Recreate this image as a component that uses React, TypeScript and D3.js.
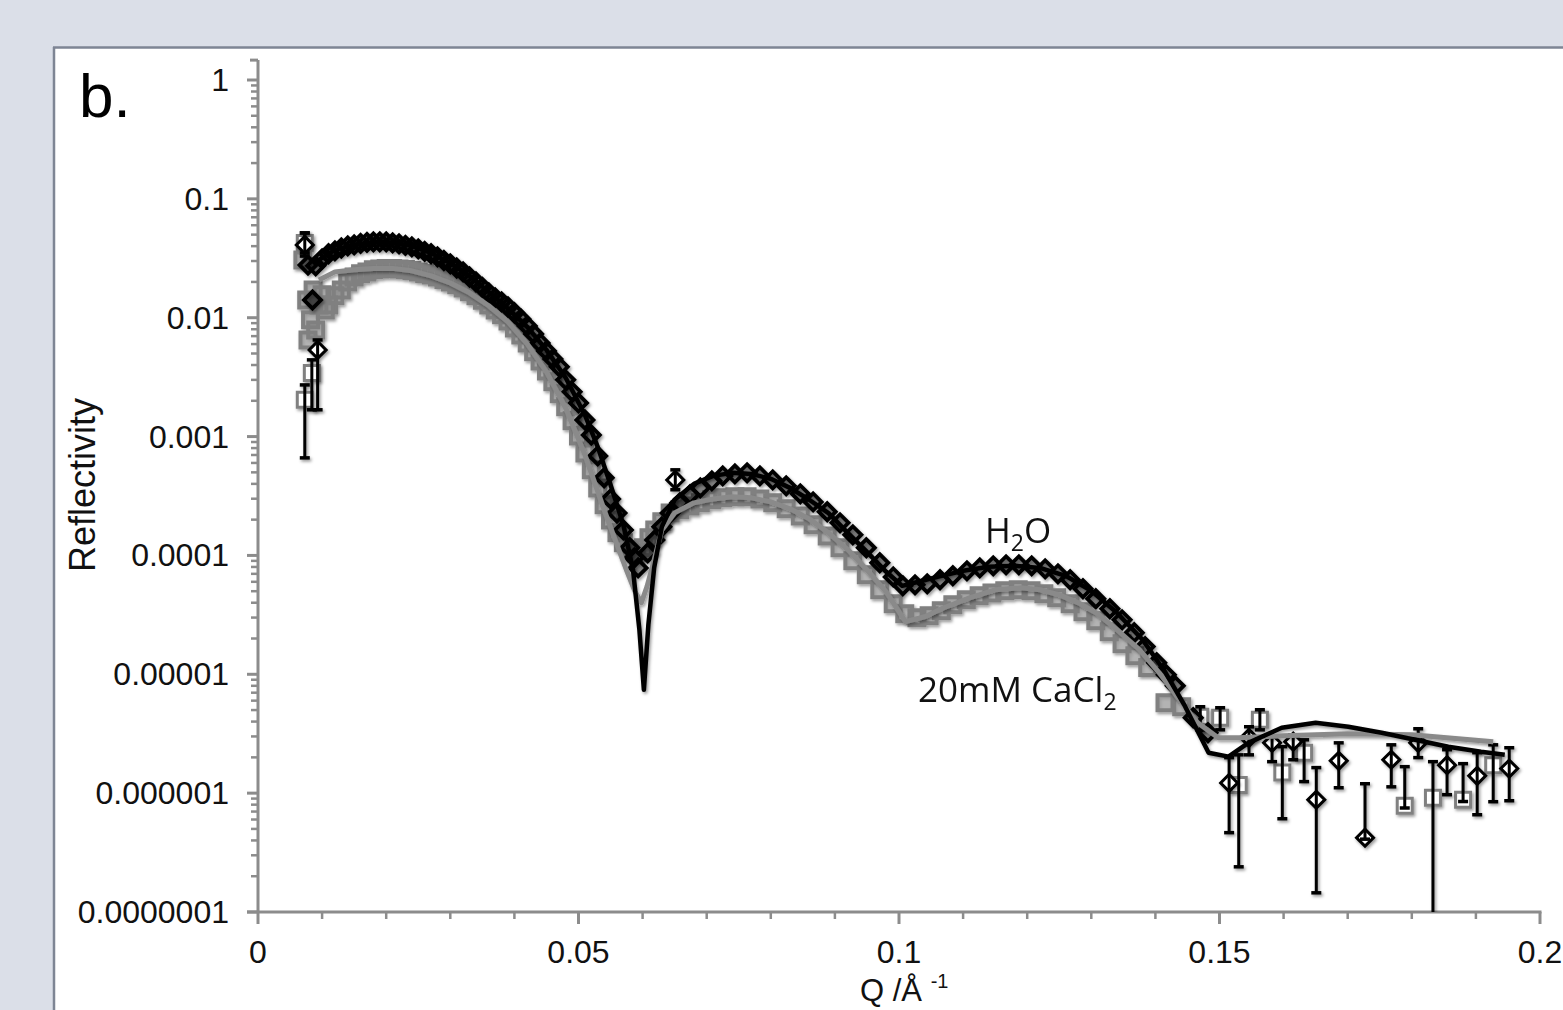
import React from "react";
import * as d3 from "d3";

// ---------- data ----------
const h2oQ = [0.0078, 0.0085, 0.009, 0.010, 0.011, 0.012, 0.013, 0.014, 0.015, 0.016, 0.017, 0.018, 0.019, 0.020, 0.021, 0.022, 0.023, 0.024, 0.025, 0.026, 0.027, 0.028, 0.029, 0.030, 0.031, 0.032, 0.033, 0.034, 0.035, 0.036, 0.037, 0.038, 0.039, 0.040, 0.041, 0.042, 0.043, 0.044, 0.045, 0.046, 0.047, 0.048, 0.049, 0.050, 0.051, 0.052, 0.053, 0.054, 0.055, 0.056, 0.057, 0.058, 0.0587, 0.0593,
  0.0608, 0.0619, 0.0630, 0.0643, 0.0658, 0.0674, 0.0690, 0.0708, 0.0725, 0.0744, 0.0763, 0.0783, 0.0803, 0.0824, 0.0846, 0.0866, 0.0888, 0.0908, 0.0928, 0.0949, 0.0970, 0.0991, 0.1006, 0.1025, 0.1044, 0.1064, 0.1084, 0.1106, 0.1126, 0.1147, 0.1167, 0.1187, 0.1207, 0.1228, 0.1248, 0.1267, 0.1287, 0.1307, 0.1329, 0.1348, 0.1367, 0.1384, 0.1402, 0.1417, 0.1431, 0.1459, 0.1482];
const h2oR = [0.0277, 0.0141, 0.0273, 0.0313, 0.0345, 0.0365, 0.0386, 0.0402, 0.0410, 0.0422, 0.0430, 0.0434, 0.0434, 0.0434, 0.0426, 0.0418, 0.0406, 0.0394, 0.0379, 0.0361, 0.0345, 0.0325, 0.0303, 0.0284, 0.0262, 0.0243, 0.0220, 0.0200, 0.0180, 0.0162, 0.0147, 0.0136, 0.0123, 0.0110, 0.00977, 0.00853, 0.00731, 0.00614, 0.00526, 0.00450, 0.00386, 0.00300, 0.00238, 0.00192, 0.00138, 0.00103, 0.000688, 0.000450, 0.000299, 0.000227, 0.000164, 0.000116, 9.55e-5, 7.85e-5,
  1.05e-4, 1.35e-4, 1.74e-4, 2.27e-4, 2.77e-4, 3.24e-4, 3.70e-4, 4.24e-4, 4.67e-4, 4.85e-4, 4.95e-4, 4.67e-4, 4.32e-4, 3.85e-4, 3.30e-4, 2.82e-4, 2.33e-4, 1.88e-4, 1.49e-4, 1.16e-4, 8.67e-5, 6.60e-5, 5.55e-5, 5.66e-5, 5.77e-5, 6.24e-5, 6.74e-5, 7.42e-5, 7.85e-5, 8.18e-5, 8.34e-5, 8.34e-5, 8.18e-5, 7.71e-5, 7.00e-5, 6.24e-5, 5.24e-5, 4.32e-5, 3.56e-5, 2.87e-5, 2.24e-5, 1.71e-5, 1.25e-5, 9.90e-6, 8.00e-6, 4.31e-6, 3.22e-6];

const cacl2Q = [0.0070, 0.0076, 0.0078, 0.0082, 0.0086, 0.0090, 0.0095, 0.0100, 0.0105, 0.011, 0.012, 0.013, 0.014, 0.015, 0.016, 0.017, 0.018, 0.019, 0.020, 0.021, 0.022, 0.023, 0.024, 0.025, 0.026, 0.027, 0.028, 0.029, 0.030, 0.031, 0.032, 0.033, 0.034, 0.035, 0.036, 0.037, 0.038, 0.039, 0.040, 0.041, 0.042, 0.043, 0.044, 0.045, 0.046, 0.047, 0.048, 0.049, 0.050, 0.051, 0.052, 0.053, 0.054, 0.055, 0.056, 0.057, 0.058, 0.059,
  0.0601, 0.0610, 0.0619, 0.0630, 0.0643, 0.0658, 0.0674, 0.0690, 0.0708, 0.0725, 0.0744, 0.0763, 0.0783, 0.0803, 0.0824, 0.0846, 0.0866, 0.0888, 0.0908, 0.0928, 0.0949, 0.0970, 0.0991, 0.1009, 0.1028, 0.1047, 0.1066, 0.1084, 0.1105, 0.1125, 0.1145, 0.1165, 0.1186, 0.1206, 0.1226, 0.1246, 0.1267, 0.1287, 0.1307, 0.1328, 0.1348, 0.1368, 0.1388, 0.1415, 0.1441];
const cacl2R = [0.0306, 0.0141, 0.0065, 0.0096, 0.0171, 0.0079, 0.0128, 0.0156, 0.0116, 0.0128, 0.0153, 0.0171, 0.0200, 0.0220, 0.0234, 0.0243, 0.0253, 0.0257, 0.0260, 0.0260, 0.0257, 0.0255, 0.0250, 0.0243, 0.0236, 0.0229, 0.0220, 0.0210, 0.0200, 0.0189, 0.0178, 0.0165, 0.0153, 0.0140, 0.0128, 0.0116, 0.0106, 0.00940, 0.00821, 0.00717, 0.00614, 0.00516, 0.00433, 0.00357, 0.00289, 0.00229, 0.00178, 0.00136, 0.00101, 0.000729, 0.000525, 0.000370, 0.000267, 0.000199, 0.000155, 0.000128, 0.000112, 0.000105,
  1.16e-4, 1.41e-4, 1.64e-4, 1.92e-4, 2.27e-4, 2.42e-4, 2.61e-4, 2.77e-4, 2.94e-4, 3.05e-4, 3.11e-4, 3.11e-4, 2.99e-4, 2.77e-4, 2.47e-4, 2.15e-4, 1.81e-4, 1.46e-4, 1.16e-4, 9.01e-5, 6.87e-5, 5.14e-5, 3.92e-5, 3.23e-5, 2.99e-5, 3.11e-5, 3.42e-5, 3.84e-5, 4.23e-5, 4.57e-5, 4.84e-5, 5.04e-5, 5.14e-5, 5.04e-5, 4.75e-5, 4.40e-5, 3.92e-5, 3.36e-5, 2.82e-5, 2.28e-5, 1.81e-5, 1.43e-5, 1.14e-5, 5.76e-6, 5.33e-6];

// points drawn with visible error bars
const h2oErrQ = [0.0073, 0.0093, 0.0651, 0.1515, 0.1546, 0.1582, 0.1615, 0.1651, 0.1686, 0.1727, 0.1768, 0.1810, 0.1855, 0.1902, 0.1952];
const h2oErrR = [0.0410, 0.00536, 4.32e-4, 1.22e-6, 2.92e-6, 2.65e-6, 2.71e-6, 8.80e-7, 1.87e-6, 4.22e-7, 1.91e-6, 2.65e-6, 1.72e-6, 1.40e-6, 1.61e-6];
const h2oErrLo = [0.0330, 0.00168, 3.57e-4, 4.65e-7, 2.10e-6, 1.84e-6, 1.91e-6, 1.45e-7, 1.11e-6, 4.1e-7, 1.13e-6, 1.99e-6, 9.70e-7, 6.58e-7, 8.63e-7];
const h2oErrHi = [0.0517, 0.0065, 5.25e-4, 1.99e-6, 3.62e-6, 2.98e-6, 3.10e-6, 1.64e-6, 2.65e-6, 1.20e-6, 2.55e-6, 3.48e-6, 2.32e-6, 2.19e-6, 2.41e-6];

const cacl2ErrQ = [0.0073, 0.0073, 0.0084, 0.1470, 0.1501, 0.1530, 0.1563, 0.1598, 0.1632, 0.1789, 0.1833, 0.1880, 0.1927];
const cacl2ErrR = [0.0426, 0.00204, 0.00343, 4.39e-6, 4.31e-6, 1.17e-6, 4.14e-6, 1.49e-6, 2.19e-6, 7.83e-7, 9.15e-7, 8.80e-7, 1.72e-6];
const cacl2ErrLo = [0.0351, 0.000662, 0.00168, 3.41e-6, 3.41e-6, 2.40e-7, 3.41e-6, 6.09e-7, 1.25e-6, 7.5e-7, 5e-8, 8.5e-7, 8.47e-7];
const cacl2ErrHi = [0.0517, 0.00272, 0.00442, 5.33e-6, 5.23e-6, 2.10e-6, 5.03e-6, 2.46e-6, 2.81e-6, 1.67e-6, 1.84e-6, 1.77e-6, 2.55e-6];

// model fits
const h2oFitQ = [0.0088, 0.010, 0.012, 0.015, 0.018, 0.021, 0.024, 0.027, 0.030, 0.033, 0.036, 0.039, 0.042, 0.045, 0.048, 0.051, 0.053, 0.055, 0.057, 0.0585, 0.0595, 0.0602, 0.0609, 0.0618, 0.063, 0.065, 0.068, 0.071, 0.074, 0.077, 0.080, 0.083, 0.086, 0.089, 0.092, 0.095, 0.098, 0.1005, 0.103, 0.106, 0.110, 0.114, 0.118, 0.122, 0.126, 0.130, 0.134, 0.138, 0.1415, 0.1445, 0.1483, 0.1514, 0.1545, 0.1597, 0.165, 0.1701, 0.1753, 0.1805, 0.1857, 0.1908, 0.1945];
const h2oFitR = [0.0284, 0.0319, 0.0372, 0.0410, 0.0434, 0.0430, 0.0402, 0.0351, 0.0289, 0.0225, 0.0165, 0.0119, 0.00837, 0.00536, 0.00313, 0.00152, 0.000819, 0.000393, 0.000181, 7.57e-5, 2.37e-5, 7.41e-6, 2.61e-5, 7.85e-5, 1.74e-4, 2.94e-4, 4.00e-4, 4.67e-4, 4.95e-4, 4.85e-4, 4.41e-4, 3.70e-4, 2.94e-4, 2.27e-4, 1.55e-4, 1.07e-4, 7.28e-5, 5.55e-5, 6.00e-5, 6.60e-5, 7.42e-5, 8.02e-5, 8.18e-5, 7.85e-5, 6.74e-5, 5.04e-5, 3.29e-5, 1.95e-5, 1.05e-5, 5.54e-6, 2.19e-6, 2.03e-6, 2.65e-6, 3.55e-6, 3.91e-6, 3.62e-6, 3.22e-6, 2.81e-6, 2.46e-6, 2.23e-6, 2.10e-6];

const cacl2FitQ = [0.0095, 0.012, 0.015, 0.018, 0.021, 0.024, 0.027, 0.030, 0.033, 0.036, 0.039, 0.042, 0.045, 0.048, 0.051, 0.054, 0.056, 0.0575, 0.0588, 0.0598, 0.0607, 0.0618, 0.063, 0.065, 0.068, 0.071, 0.074, 0.077, 0.080, 0.083, 0.086, 0.089, 0.092, 0.095, 0.098, 0.101, 0.104, 0.107, 0.111, 0.115, 0.119, 0.122, 0.125, 0.128, 0.131, 0.134, 0.1375, 0.1406, 0.1435, 0.1466, 0.1498, 0.153, 0.160, 0.170, 0.180, 0.1927];
const cacl2FitR = [0.0208, 0.0243, 0.0253, 0.0260, 0.0260, 0.0248, 0.0225, 0.0196, 0.0162, 0.0126, 0.00922, 0.00602, 0.00350, 0.00174, 0.000702, 2.42e-4, 1.23e-4, 7.5e-5, 5.0e-5, 4.0e-5, 5.5e-5, 9.15e-5, 1.64e-4, 2.28e-4, 2.77e-4, 2.99e-4, 3.11e-4, 3.05e-4, 2.82e-4, 2.47e-4, 2.03e-4, 1.55e-4, 1.12e-4, 7.57e-5, 4.94e-5, 2.77e-5, 3.05e-5, 3.63e-5, 4.40e-5, 5.14e-5, 5.34e-5, 5.14e-5, 4.66e-5, 3.99e-5, 3.23e-5, 2.37e-5, 1.61e-5, 1.03e-5, 6.35e-6, 3.91e-6, 2.92e-6, 2.92e-6, 3.04e-6, 3.16e-6, 3.10e-6, 2.71e-6];

const xTickValues = [0, 0.05, 0.1, 0.15, 0.2];
const xTickLabels = ["0", "0.05", "0.1", "0.15", "0.2"];
const yTickValues = [1e-7, 1e-6, 1e-5, 1e-4, 1e-3, 1e-2, 1e-1, 1];
const yTickLabels = ["0.0000001", "0.000001", "0.00001", "0.0001", "0.001", "0.01", "0.1", "1"];

const AXIS = "#8c8c8c";
const SQUARE = "#808080";
const FONT = "'Liberation Sans', Arial, Helvetica, sans-serif";
const ANNOT = "'Open Sans', 'Liberation Sans', sans-serif";

export default function App() {
  React.useEffect(() => {
    document.body.style.margin = "0";
    document.body.style.overflow = "hidden";
  }, []);

  const x = d3.scaleLinear().domain([0, 0.2]).range([258, 1540]);
  const y = d3.scaleLog().domain([1e-7, 1]).range([912, 80]);
  const yTop = y(1.47);

  const minorX = d3.range(0, 21).map((i) => i * 0.01).filter((v, i) => i % 5 !== 0);
  const minorY: number[] = [];
  for (let e = -7; e < 0; e++) for (let k = 2; k <= 9; k++) minorY.push(k * Math.pow(10, e));

  const line = d3
    .line<[number, number]>()
    .x((d) => x(d[0]))
    .y((d) => y(d[1]));
  const h2oFit = line(h2oFitQ.map((q, i) => [q, h2oFitR[i]]));
  const cacl2Fit = line(cacl2FitQ.map((q, i) => [q, cacl2FitR[i]]));

  const sq = d3.symbol().type(d3.symbolSquare).size(225)() as string;
  const dm = d3.symbol().type(d3.symbolSquare).size(144)() as string;

  const errBars = (qs: number[], lo: number[], hi: number[], key: string) =>
    qs.map((q, i) => {
      const cx = x(q);
      const y1 = y(hi[i]);
      const y2 = y(Math.max(lo[i], 1e-8));
      return (
        <g key={key + i}>
          <line x1={cx} x2={cx} y1={y1} y2={y2} stroke="#000" strokeWidth={3} />
          <line x1={cx - 5} x2={cx + 5} y1={y1} y2={y1} stroke="#000" strokeWidth={3.5} />
          <line x1={cx - 5} x2={cx + 5} y1={y2} y2={y2} stroke="#000" strokeWidth={3.5} />
        </g>
      );
    });

  return (
    <svg width={1563} height={1010} style={{ position: "absolute", left: 0, top: 0, display: "block" }}>
      <defs>
        <filter id="sh" x="-10%" y="-10%" width="120%" height="120%">
          <feDropShadow dx="1.5" dy="2" stdDeviation="1.8" floodColor="#000" floodOpacity="0.4" />
        </filter>
        <clipPath id="plot">
          <rect x={240} y={40} width={1320} height={912 - 40} />
        </clipPath>
      </defs>
      <rect x={0} y={0} width={1563} height={1010} fill="#dbdfe8" />
      <rect x={53} y={47} width={1563} height={1010} fill="#ffffff" />
      <line x1={53} x2={1563} y1={47.5} y2={47.5} stroke="#7e8594" strokeWidth={2.5} />
      <line x1={54} x2={54} y1={47} y2={1010} stroke="#7e8594" strokeWidth={2.5} />

      <text x={79} y={117} fontFamily={FONT} fontSize={62} fill="#000">b.</text>

      {/* axes */}
      <g stroke={AXIS} strokeWidth={3}>
        <line x1={258} x2={258} y1={yTop} y2={912} />
        <line x1={250} x2={258} y1={yTop} y2={yTop} />
        <line x1={247} x2={1541.5} y1={912} y2={912} />
        {yTickValues.map((v) => (
          <line key={"yt" + v} x1={247} x2={258} y1={y(v)} y2={y(v)} />
        ))}
        {minorY.map((v) => (
          <line key={"ym" + v} x1={251} x2={258} y1={y(v)} y2={y(v)} strokeWidth={2.5} />
        ))}
        {xTickValues.map((v) => (
          <line key={"xt" + v} x1={x(v)} x2={x(v)} y1={912} y2={924} />
        ))}
        {minorX.map((v) => (
          <line key={"xm" + v} x1={x(v)} x2={x(v)} y1={912} y2={919} strokeWidth={2.5} />
        ))}
      </g>
      <g fontFamily={FONT} fontSize={32} fill="#111">
        {yTickValues.map((v, i) => (
          <text key={"yl" + v} x={229} y={y(v) + 11} textAnchor="end">{yTickLabels[i]}</text>
        ))}
        {xTickValues.map((v, i) => (
          <text key={"xl" + v} x={x(v)} y={963} textAnchor="middle">{xTickLabels[i]}</text>
        ))}
      </g>
      <text transform="translate(95,485) rotate(-90)" textAnchor="middle" fontFamily={FONT} fontSize={36} fill="#111">Reflectivity</text>
      <text x={860} y={1001} fontFamily={FONT} fontSize={31} fill="#111">
        Q /Å <tspan fontSize={20} dy={-13}>-1</tspan>
      </text>

      {/* data */}
      <g clipPath="url(#plot)">
        <g filter="url(#sh)">
          {cacl2Q.map((q, i) => (
            <path key={"cs" + i} d={sq} transform={`translate(${x(q)},${y(cacl2R[i])})`} fill={SQUARE} fillOpacity={0.45} stroke={SQUARE} strokeWidth={4} />
          ))}
          {cacl2ErrQ.map((q, i) => (
            <path key={"ces" + i} d={sq} transform={`translate(${x(q)},${y(cacl2ErrR[i])})`} fill="#fff" stroke={SQUARE} strokeWidth={3} />
          ))}
          {errBars(cacl2ErrQ, cacl2ErrLo, cacl2ErrHi, "ce")}
        </g>
        <g filter="url(#sh)">
          {h2oQ.map((q, i) => (
            <path key={"hd" + i} d={dm} transform={`translate(${x(q)},${y(h2oR[i])}) rotate(45)`} fill="#000" fillOpacity={0.4} stroke="#000" strokeWidth={3.8} />
          ))}
          {h2oErrQ.map((q, i) => (
            <path key={"hed" + i} d={dm} transform={`translate(${x(q)},${y(h2oErrR[i])}) rotate(45)`} fill="#fff" stroke="#000" strokeWidth={3} />
          ))}
          {errBars(h2oErrQ, h2oErrLo, h2oErrHi, "he")}
        </g>
        <g filter="url(#sh)" fill="none" strokeLinejoin="round">
          <path d={cacl2Fit || ""} stroke="#8a8a8a" strokeWidth={5} />
          <path d={h2oFit || ""} stroke="#000" strokeWidth={4.5} />
        </g>
      </g>

      {/* annotations */}
      <text x={985} y={543} fontFamily={ANNOT} fontSize={35} fill="#111">
        H<tspan fontSize={23} dy={8}>2</tspan><tspan dy={-8}>O</tspan>
      </text>
      <text x={918} y={702} fontFamily={ANNOT} fontSize={35} fill="#111">
        20mM CaCl<tspan fontSize={23} dy={8}>2</tspan>
      </text>
    </svg>
  );
}
